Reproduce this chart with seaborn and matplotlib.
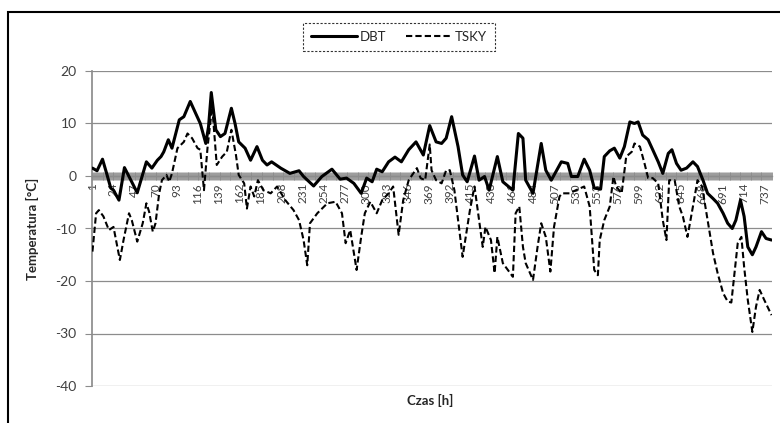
import matplotlib
matplotlib.use("Agg")
import matplotlib.pyplot as plt
import seaborn as sns
from matplotlib.patches import Rectangle

# DBT - dry bulb temperature (hour, degC)
dbt_hours = [1, 6, 12, 17, 21, 24, 30, 36, 41, 50, 60, 66, 72, 76, 79, 84, 88, 96, 101, 108,
             114, 119, 125, 128, 131, 136, 141, 146, 153, 157, 161, 168, 174, 181, 187, 192,
             197, 207, 217, 227, 232, 243, 252, 263, 272, 279, 287, 295, 301, 307, 312, 318,
             325, 332, 339, 347, 355, 363, 370, 377, 383, 388, 394, 401, 406, 411, 419, 424,
             430, 435, 444, 450, 461, 467, 472, 475, 483, 492, 497, 503, 514, 521, 525, 532,
             539, 545, 550, 557, 561, 567, 572, 578, 583, 589, 594, 598, 603, 609, 614, 620,
             625, 631, 635, 640, 645, 651, 658, 663, 669, 674, 680, 685, 691, 696, 701, 705,
             710, 714, 718, 723, 727, 733, 738, 744]
dbt_temp = [1.5, 1.0, 3.2, 0.2, -2.3, -2.7, -4.6, 1.6, -0.1, -3.2, 2.7, 1.5, 3.0, 3.7, 4.6, 6.9, 5.3, 10.7, 11.3, 14.2,
            11.9, 10.0, 6.2, 9.4, 15.9, 8.8, 7.5, 8.1, 12.9, 10.0, 6.5, 5.3, 3.0, 5.6, 3.0, 2.1,
            2.7, 1.5, 0.5, 1.0, -0.1, -1.9, -0.1, 1.3, -0.6, -0.4, -1.4, -3.3, -0.4, -1.1, 1.3, 0.8,
            2.7, 3.6, 2.7, 5.0, 6.5, 4.0, 9.6, 6.5, 6.2, 7.2, 11.3, 5.6, 0.2, -1.1, 3.8, -0.8,
            -0.1, -2.7, 3.7, -1.1, -2.7, 8.1, 7.2, -0.8, -3.3, 6.2, 1.1, -0.8, 2.7, 2.4, -0.1, -0.1,
            3.2, 1.1, -2.3, -2.5, 3.7, 4.8, 5.3, 3.4, 5.6, 10.3, 10.0, 10.3, 7.8, 6.9, 5.0, 2.7,
            0.5, 4.3, 5.0, 2.4, 1.1, 1.5, 2.7, 1.8, -0.8, -3.3, -4.3, -5.2, -7.1, -9.0, -10.0, -8.4,
            -4.6, -7.7, -13.5, -15.0, -13.5, -10.6, -11.9, -12.2]

# TSKY - sky temperature
tsky_hours = [1, 5, 8, 13, 19, 24, 31, 35, 41, 44, 50, 56, 60, 63, 67, 70, 74, 77, 82, 85,
              88, 94, 101, 105, 110, 116, 119, 123, 127, 132, 137, 143, 148, 153, 158, 161, 167, 170,
              174, 178, 182, 188, 196, 203, 212, 221, 227, 232, 236, 239, 247, 258, 267, 274,
              278, 283, 290, 295, 299, 305, 312, 318, 325, 330, 336, 341, 347, 352, 356, 360,
              365, 370, 372, 377, 383, 388, 392, 397, 401, 406, 414, 419, 424, 428, 431, 437,
              441, 444, 450, 461, 464, 468, 472, 475, 483, 488, 492, 497, 502, 506, 512, 515,
              523, 530, 539, 545, 550, 554, 556, 561, 567, 571, 574, 580, 585, 591, 594, 600,
              605, 609, 614, 620, 625, 629, 632, 638, 643, 647, 652, 658, 663, 668, 674, 680,
              685, 691, 696, 700, 703, 707, 711, 714, 718, 723, 727, 731, 736, 744]
tsky_temp = [-14.4, -7.1, -6.5, -7.7, -10.3, -9.7, -16.0, -12.2, -7.1, -8.4, -12.5, -9.0, -5.2, -6.8, -10.6, -9.0, -3.3, -0.8, 0.2, -1.1,
             0.5, 5.3, 6.5, 8.1, 7.2, 5.3, 5.0, -2.7, 5.6, 13.2, 2.1, 3.7, 4.6, 8.8, 4.0, 0.2, -1.4, -6.2,
             -2.0, -3.9, -0.8, -2.7, -3.3, -2.0, -4.6, -6.5, -8.4, -12.2, -17.0, -9.0, -7.1, -5.2, -4.9, -7.1,
             -12.8, -10.3, -17.9, -11.6, -7.1, -4.9, -7.1, -4.6, -3.3, -2.0, -11.2, -4.6, -0.8, 0.5, 1.5, -0.4,
             -0.8, 6.0, 1.1, -0.8, -1.4, 1.1, 1.1, -2.7, -8.4, -15.4, -6.5, -2.0, -8.4, -13.5, -9.7, -12.2,
             -18.5, -11.6, -16.6, -19.2, -7.1, -5.8, -13.5, -16.6, -19.8, -13.5, -9.0, -11.6, -18.2, -9.7, -3.9, -3.3,
             -3.3, -2.7, -2.0, -5.8, -17.9, -18.9, -12.2, -8.4, -5.8, -0.1, -2.0, -3.3, 3.7, 4.6, 6.2, 5.6,
             2.4, -0.4, -0.4, -1.4, -8.4, -12.2, -0.8, -0.8, -5.8, -7.7, -11.6, -5.8, -0.8, -2.0, -8.4, -14.7,
             -18.5, -22.3, -23.9, -24.1, -19.2, -12.8, -11.6, -17.3, -23.6, -29.7, -24.9, -21.7, -23.6, -26.5]

n_hours = 744
xtick_labels = list(range(1, n_hours + 1, 23))
yticks = [-40, -30, -20, -10, 0, 10, 20]

sns.set_theme(style="white")
plt.rcParams["font.family"] = ["Lato", "DejaVu Sans"]
plt.rcParams["axes.unicode_minus"] = False

fig = plt.figure(figsize=(7.8, 4.23), dpi=100)
ax = fig.add_axes([92 / 780, 1 - 386 / 423, 680 / 780, 315 / 423])

sns.lineplot(x=dbt_hours, y=dbt_temp, ax=ax, color="black", linewidth=2.2,
             label="DBT", zorder=4)
sns.lineplot(x=tsky_hours, y=tsky_temp, ax=ax, color="black", linewidth=1.5,
             linestyle=(0, (3, 1.5)), label="TSKY", zorder=4)

ax.set_xlim(0.5, n_hours + 0.5)
ax.set_ylim(-40, 20)
ax.set_yticks(yticks)
ax.yaxis.grid(True, color="#8c8c8c", linewidth=0.9)
ax.xaxis.grid(False)

# category axis crosses at 0
gray = "#8c8c8c"
ax.spines["bottom"].set_position(("data", 0))
ax.spines["bottom"].set_color(gray)
ax.spines["bottom"].set_linewidth(1.0)
ax.spines["left"].set_color(gray)
ax.spines["top"].set_visible(False)
ax.spines["right"].set_visible(False)

ax.set_xticks(xtick_labels)
ax.set_xticklabels([str(v) for v in xtick_labels], rotation=90)
ax.set_xticks(range(1, n_hours + 1), minor=True)
ax.tick_params(axis="x", which="both", direction="inout", length=6, width=0.6,
               color="#8a8a8a", bottom=True)
ax.tick_params(axis="x", which="major", labelsize=8.5, labelcolor="#404040", pad=2)
ax.tick_params(axis="y", direction="out", length=5, width=0.8, color=gray, left=True,
               labelsize=10, labelcolor="#404040", pad=6)

ax.set_xlabel("")
ax.set_ylabel("Temperatura [°C]", fontsize=9.5, fontweight="bold", labelpad=12)
fig.text(430 / 780, 1 - 400 / 423, "Czas [h]", ha="center", va="center",
         fontsize=9.5, fontweight="bold")

handles, labels = ax.get_legend_handles_labels()
ax.get_legend().remove()
leg = fig.legend(handles, labels, loc="center", bbox_to_anchor=(399 / 780, 1 - 37 / 423),
                 ncol=2, frameon=True, fancybox=False, edgecolor="black", fontsize=9.5,
                 handlelength=3.5, handletextpad=0.2, columnspacing=1.5,
                 borderpad=0.6)
leg.get_frame().set_linestyle((0, (2, 1.5)))
leg.get_frame().set_linewidth(0.8)

# chart border
fig.patches.append(Rectangle((8 / 780, -0.05), 1.1, 1 - 12 / 423 + 0.05,
                             transform=fig.transFigure, fill=False, lw=1.5,
                             ec="black"))

fig.savefig("out.png", dpi=100)
